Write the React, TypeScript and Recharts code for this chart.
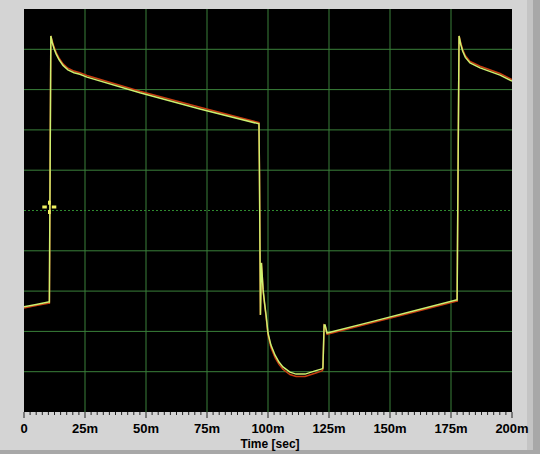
import React from "react";
import {
  LineChart,
  Line,
  XAxis,
  YAxis,
  ReferenceArea,
  ReferenceLine,
  ReferenceDot,
  Label,
} from "recharts";

// time in ms
const timeMs = [
  0, 5, 10, 10.4, 11.0, 11.6, 12.3, 13.2, 14.4, 16.0, 18.0, 20.5, 22.9, 25.8,
  47.5, 72.1, 96.3, 96.5, 96.9, 97.3, 98.0, 98.6, 99.2, 100.0, 101.2, 102.9,
  104.5, 106.1, 109.0, 111.5, 115.2, 119.3, 122.1, 122.5, 123.0, 123.4, 124.2,
  141.8, 160.0, 177.1, 177.5, 178.3, 179.0, 179.8, 180.9, 182.8, 186.9, 195.1,
  200,
];

const yellowTrace = [
  -2.39, -2.33, -2.27, -2.27, 4.33, 4.16, 4.02, 3.88, 3.74, 3.6, 3.49, 3.42,
  3.38, 3.31, 2.92, 2.52, 2.15, 0.93, -2.59, -1.3, -1.97, -2.3, -2.59, -3.04,
  -3.34, -3.59, -3.76, -3.88, -4.01, -4.06, -4.06, -3.98, -3.93, -3.91, -2.84,
  -2.84, -3.04, -2.77, -2.49, -2.22, -2.22, 4.33, 4.12, 3.95, 3.8, 3.66, 3.54,
  3.36, 3.21,
];

const redTrace = [
  -2.42, -2.36, -2.3, -2.3, 4.33, 4.2, 4.06, 3.92, 3.78, 3.64, 3.53, 3.46, 3.42,
  3.35, 2.96, 2.56, 2.18, 0.93, -2.59, -1.3, -2.0, -2.33, -2.63, -3.09, -3.4,
  -3.65, -3.82, -3.94, -4.07, -4.12, -4.12, -4.04, -3.98, -3.95, -2.84, -2.86,
  -3.07, -2.8, -2.52, -2.25, -2.25, 4.33, 4.16, 3.99, 3.84, 3.7, 3.58, 3.4,
  3.25,
];

const majorTicks = [0, 25, 50, 75, 100, 125, 150, 175, 200];
const tickLabels = ["0", "25m", "50m", "75m", "100m", "125m", "150m", "175m", "200m"];
const gridX = [25, 50, 75, 100, 125, 150, 175];
const gridY = [-4, -3, -2, -1, 1, 2, 3, 4];

const cursor = { t: 10.37, v: 0.087 };

const data = timeMs.map((t, i) => ({ t, yellow: yellowTrace[i], red: redTrace[i] }));

// minor ticks every 2.5 ms
const allTicks: number[] = [];
for (let i = 0; i <= 80; i++) allTicks.push(i * 2.5);

const font = '"Liberation Sans", Arial, sans-serif';
const gridColor = "#3a803a";

const TimeTick = (props: any) => {
  const { x, y, payload } = props;
  const idx = majorTicks.indexOf(payload.value);
  const major = idx >= 0;
  return (
    <g>
      <line x1={x} x2={x} y1={y} y2={y + (major ? 6 : 3)} stroke="#222" />
      {major && (
        <text
          x={x}
          y={y + 21}
          textAnchor="middle"
          fontFamily={font}
          fontWeight="bold"
          fontSize={13}
          fill="#000"
        >
          {tickLabels[idx]}
        </text>
      )}
    </g>
  );
};

const CursorMark = (props: any) => {
  const { cx, cy } = props;
  const c = "#f0f060";
  return (
    <g>
      <rect x={cx - 7} y={cy - 1.5} width={4.5} height={3} fill={c} />
      <rect x={cx + 2.5} y={cy - 1.5} width={4.5} height={3} fill={c} />
      <rect x={cx - 1.3} y={cy - 6.3} width={2.7} height={4} fill={c} />
      <rect x={cx - 1.3} y={cy + 3} width={2.7} height={4} fill={c} />
    </g>
  );
};

export default function App() {
  return (
    <div
      style={{
        position: "fixed",
        left: 0,
        top: 0,
        width: 540,
        height: 454,
        background: "#d4d4d4",
        overflow: "hidden",
      }}
    >
      <div style={{ position: "absolute", left: 527, top: 0, width: 6, height: 454, background: "#c4c4c4" }} />
      <div style={{ position: "absolute", left: 533, top: 0, width: 7, height: 454, background: "#a8a8a8" }} />
      <div style={{ position: "absolute", left: 0, top: 450, width: 540, height: 4, background: "#a8a8a8" }} />
      <LineChart
        width={540}
        height={454}
        data={data}
        margin={{ top: 9, left: 24, right: 28, bottom: 0 }}
        style={{ position: "absolute", left: 0, top: 0 }}
      >
        <XAxis
          dataKey="t"
          type="number"
          domain={[0, 200]}
          ticks={allTicks}
          interval={0}
          tick={<TimeTick />}
          tickLine={false}
          axisLine={false}
          tickSize={0}
          tickMargin={0}
          height={42}
          allowDataOverflow
        >
          <Label
            value="Time [sec]"
            position="insideBottom"
            offset={6}
            dx={2}
            style={{ fontFamily: font, fontWeight: "bold", fontSize: 12, fill: "#000" }}
          />
        </XAxis>
        <YAxis hide type="number" domain={[-5, 5]} allowDataOverflow />
        <ReferenceArea x1={0} x2={200} y1={-5} y2={5} fill="#000" fillOpacity={1} stroke="none" />
        {gridX.map((g) => (
          <ReferenceLine key={"x" + g} x={g} stroke={gridColor} strokeWidth={1} />
        ))}
        {gridY.map((g) => (
          <ReferenceLine key={"y" + g} y={g} stroke={gridColor} strokeWidth={1} />
        ))}
        <ReferenceLine y={0} stroke="#2f8a2f" strokeDasharray="2 2" strokeWidth={1} />
        <Line
          dataKey="red"
          type="linear"
          stroke="#c83c10"
          strokeWidth={1.5}
          dot={false}
          isAnimationActive={false}
        />
        <Line
          dataKey="yellow"
          type="linear"
          stroke="#cdf070"
          strokeWidth={1.5}
          dot={false}
          isAnimationActive={false}
        />
        <ReferenceDot x={cursor.t} y={cursor.v} shape={<CursorMark />} />
      </LineChart>
    </div>
  );
}
